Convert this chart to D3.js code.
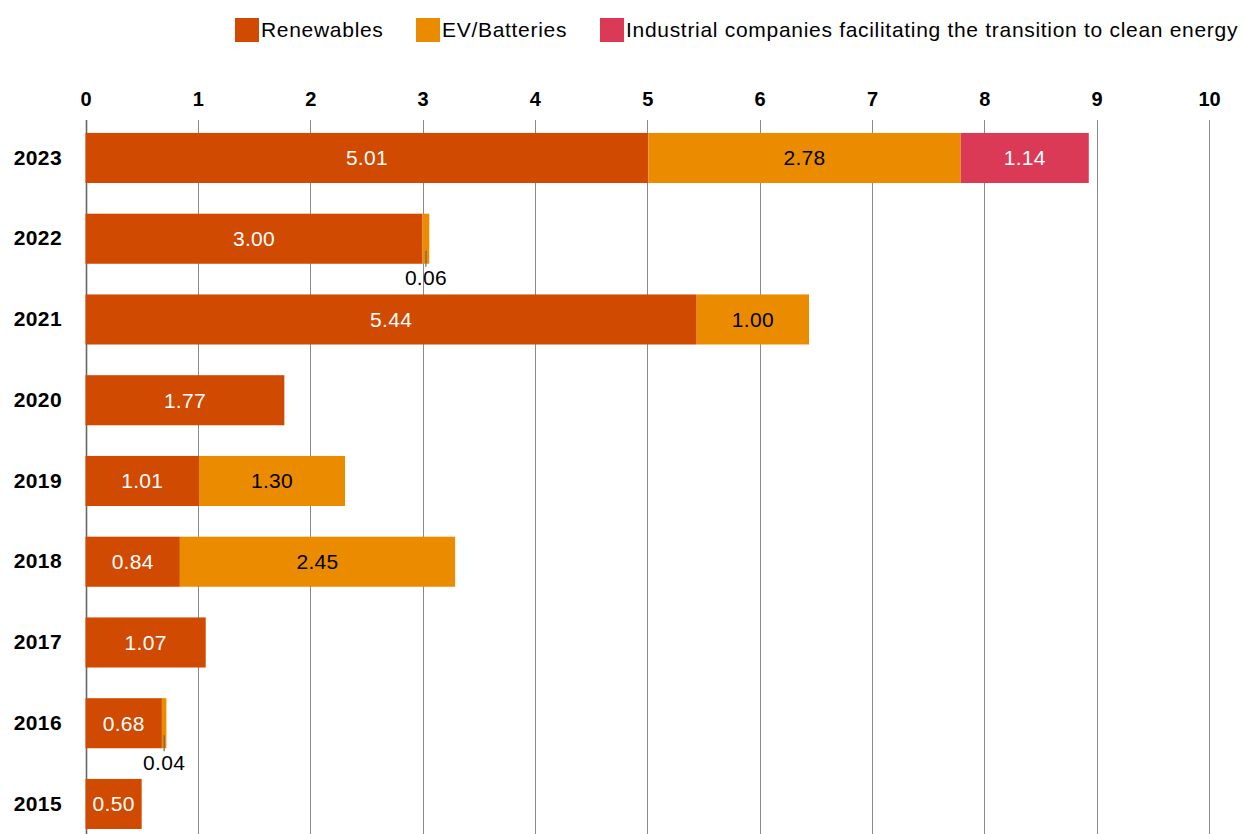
<!DOCTYPE html>
<html>
<head>
<meta charset="utf-8">
<script src="https://cdn.jsdelivr.net/npm/d3@7"></script>
<style>
  body { margin: 0; background: #fff; }
  svg { font-family: "Liberation Sans", Arial, sans-serif; }
</style>
</head>
<body>
<svg width="1245" height="834"></svg>
<script>
(function (d3) {
  "use strict";

  const years = ["2023", "2022", "2021", "2020", "2019", "2018", "2017", "2016", "2015"];
  const renewables = [5.01, 3.00, 5.44, 1.77, 1.01, 0.84, 1.07, 0.68, 0.50];
  const evBatteries = [2.78, 0.06, 1.00, 0, 1.30, 2.45, 0, 0.04, 0];
  const industrial = [1.14, 0, 0, 0, 0, 0, 0, 0, 0];
  const xTicks = [0, 1, 2, 3, 4, 5, 6, 7, 8, 9, 10];

  const seriesNames = ["Renewables", "EV/Batteries", "Industrial companies facilitating the transition to clean energy"];
  const colors = ["#d04a02", "#eb8c00", "#db3a57"];
  const labelColors = ["#fff", "#000", "#fff"];

  const svg = d3.select("svg");
  const height = +svg.attr("height");

  const rows = years.map((y, i) => ({
    year: y,
    Renewables: renewables[i],
    "EV/Batteries": evBatteries[i],
    "Industrial companies facilitating the transition to clean energy": industrial[i]
  }));

  const stacked = d3.stack().keys(seriesNames)(rows);

  const xScale = d3.scaleLinear().domain([0, 10]).range([85.5, 1209]);
  const yScale = d3.scaleBand()
    .domain(years)
    .range([117.6, 117.6 + 9 * 80.75])
    .paddingInner(0.38)
    .paddingOuter(0.19);

  // grid + top axis
  const xAxis = d3.axisTop(xScale).tickValues(xTicks).tickSize(0).tickPadding(0).tickFormat(d3.format("d"));
  const xAxisG = svg.append("g").attr("transform", "translate(0,106)").call(xAxis);
  xAxisG.select(".domain").remove();
  xAxisG.selectAll("text")
    .attr("font-size", 20)
    .attr("font-weight", "bold")
    .attr("fill", "#000")
    .attr("font-family", "Liberation Sans, Arial, sans-serif");

  svg.append("g")
    .selectAll("line")
    .data(xTicks)
    .join("line")
    .attr("x1", (d) => Math.round(xScale(d)) + 0.5)
    .attr("x2", (d) => Math.round(xScale(d)) + 0.5)
    .attr("y1", 120)
    .attr("y2", height)
    .attr("stroke", (d) => (d === 0 ? "#666" : "#8a8a8a"))
    .attr("stroke-width", (d) => (d === 0 ? 1.6 : 1));

  // year labels
  const yAxis = d3.axisLeft(yScale).tickSize(0).tickPadding(0);
  const yAxisG = svg.append("g").attr("transform", "translate(62,0)").call(yAxis);
  yAxisG.select(".domain").remove();
  yAxisG.selectAll("text")
    .attr("font-size", 21)
    .attr("font-weight", "bold")
    .attr("letter-spacing", 0.4)
    .attr("fill", "#000")
    .attr("font-family", "Liberation Sans, Arial, sans-serif");

  // bars
  const layers = svg.append("g")
    .selectAll("g")
    .data(stacked)
    .join("g")
    .attr("fill", (d, i) => colors[i]);

  layers.selectAll("rect")
    .data((d) => d.filter((s) => s[1] - s[0] > 0))
    .join("rect")
    .attr("x", (d) => xScale(d[0]))
    .attr("y", (d) => yScale(d.data.year))
    .attr("width", (d) => xScale(d[1]) - xScale(d[0]))
    .attr("height", yScale.bandwidth());

  // value labels
  const bw = yScale.bandwidth();
  stacked.forEach((layer, i) => {
    layer.forEach((s) => {
      const v = s[1] - s[0];
      if (v <= 0) return;
      const cx = (xScale(s[0]) + xScale(s[1])) / 2;
      const top = yScale(s.data.year);
      const label = v.toFixed(2);
      if (v < 0.2) {
        svg.append("line")
          .attr("x1", cx).attr("x2", cx)
          .attr("y1", top + bw - 13).attr("y2", top + bw + 3)
          .attr("stroke", "#666").attr("stroke-width", 1.2);
        svg.append("text")
          .attr("x", cx)
          .attr("y", top + bw + 14)
          .attr("dy", "0.35em")
          .attr("text-anchor", "middle")
          .attr("font-size", 21)
          .attr("letter-spacing", 0.3)
          .attr("fill", "#000")
          .text(label);
      } else {
        svg.append("text")
          .attr("x", cx)
          .attr("y", top + bw / 2)
          .attr("dy", "0.35em")
          .attr("text-anchor", "middle")
          .attr("font-size", 21)
          .attr("letter-spacing", 0.3)
          .attr("fill", labelColors[i])
          .text(label);
      }
    });
  });

  // legend
  const legendX = [235, 416, 600];
  const legend = svg.append("g")
    .selectAll("g")
    .data(seriesNames)
    .join("g")
    .attr("transform", (d, i) => `translate(${legendX[i]},18)`);
  legend.append("rect")
    .attr("width", 24).attr("height", 24)
    .attr("fill", (d, i) => colors[i]);
  legend.append("text")
    .attr("x", 26).attr("y", 12).attr("dy", "0.35em")
    .attr("font-size", 21)
    .attr("letter-spacing", 0.7)
    .attr("fill", "#000")
    .text((d) => d);
})(d3);
</script>
</body>
</html>
